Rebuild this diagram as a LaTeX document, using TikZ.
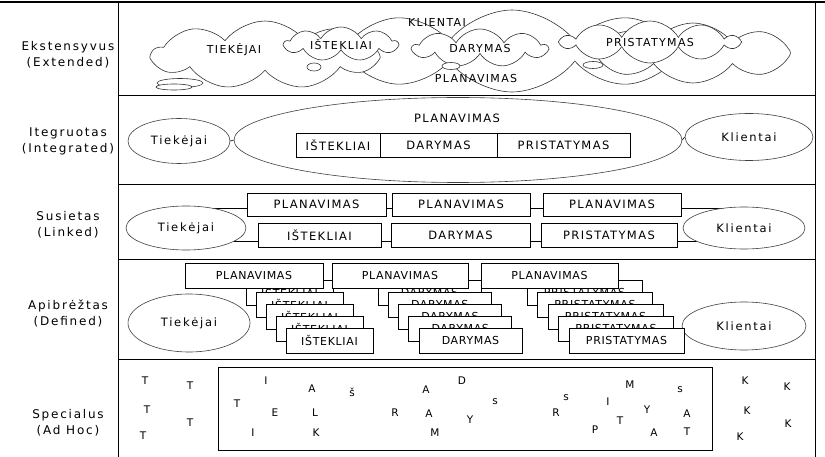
\documentclass[tikz,border=0pt]{standalone}
\usepackage{fontspec}
\setmainfont{DejaVu Sans}[LetterSpace=15]
\newfontfamily\capsfont{DejaVu Sans}[LetterSpace=12]
\newfontfamily\cardfont{DejaVu Sans}[LetterSpace=6]
\usetikzlibrary{shapes.geometric,shapes.symbols,backgrounds}

\tikzset{
  side/.style={align=center, font=\fontsize{12}{16}\selectfont},
  oval/.style={draw=black!75, ellipse, fill=white, inner sep=0pt, font=\fontsize{11.5}{13}\selectfont},
  cell/.style={draw, fill=white, inner sep=0pt, font=\capsfont\fontsize{11.5}{13}\selectfont},
  card/.style={draw, fill=white, inner sep=0pt, minimum height=25pt, font=\cardfont\fontsize{11}{12}\selectfont},
  puff/.style={draw=black!80, cloud, fill=white, cloud ignores aspect, inner sep=0pt, cloud puff arc=105},
  bubble/.style={draw=black!80, ellipse, fill=white, inner sep=0pt},
  word/.style={font=\capsfont\fontsize{11}{12}\selectfont},
  letter/.style={font=\capsfont\fontsize{10.5}{11}\selectfont, inner sep=0pt},
}

\begin{document}
\begin{tikzpicture}[x=1pt,y=-1pt,line width=0.6pt]
\useasboundingbox (0,0) rectangle (825,457);

% frame
\draw[line width=1.6pt] (0,2) -- (825,2);
\draw (118,2) -- (118,457);
\draw (815,2) -- (815,457);
\foreach \r in {95,184,259,359} \draw (118,\r) -- (815,\r);

% row labels
\node[side] (ext) at (68,55) {Ekstensyvus\\(Extended)};
\node[side] (integ) at (68,141) {Itegruotas\\(Integrated)};
\node[side] (link) at (68,225) {Susietas\\(Linked)};
\node[side] (defin) at (68,313) {Apibrėžtas\\(Defined)};
\node[side] (adhoc) at (68,423) {Specialus\\(Ad Hoc)};

% extended: clouds
\node[puff, cloud puffs=10, minimum width=390pt, minimum height=82pt] (cl2) at (512,51) {};
\node[puff, cloud puffs=8, minimum width=195pt, minimum height=60pt] (cl3) at (693,53) {};
\node[puff, cloud puffs=9, minimum width=225pt, minimum height=68pt] (cl1) at (265,55) {};
\node[bubble, minimum width=46pt, minimum height=9pt] (bb1) at (180,83) {};
\node[bubble, minimum width=36pt, minimum height=6pt] (bb2) at (174,87) {};
\node[puff, cloud puffs=9, cloud puff arc=120, minimum width=113pt, minimum height=34pt, word] (isk1) at (341,44) {IŠTEKLIAI};
\node[bubble, minimum width=14pt, minimum height=8pt] (bb3) at (314,67) {};
\node[puff, cloud puffs=9, cloud puff arc=120, minimum width=134pt, minimum height=38pt, word] (dar1) at (480,48) {DARYMAS};
\node[bubble, minimum width=18pt, minimum height=7pt] (bb4) at (451,66) {};
\node[puff, cloud puffs=10, cloud puff arc=120, minimum width=176pt, minimum height=42pt, word] (pri1) at (650,42) {PRISTATYMAS};
\node[bubble, minimum width=20pt, minimum height=7pt] (bb5) at (593,65) {};
\node[word] (kli1) at (437,22) {KLIENTAI};
\node[word] (tiek1) at (234,50) {TIEKĖJAI};
\node[word] (plan1) at (476,78) {PLANAVIMAS};

% integrated
\node[oval, minimum width=102pt, minimum height=45pt] (tiek2) at (179,141) {Tiekėjai};
\node[oval, minimum width=448pt, minimum height=85pt] (plan2) at (458,140) {};
\node[oval, minimum width=128pt, minimum height=47pt] (kli2) at (749,137) {Klientai};
\node[cell, draw=none, fill=none] (planlbl) at (457,118) {PLANAVIMAS};
\node[cell, minimum width=84pt, minimum height=24pt] (isk2) at (338,145) {IŠTEKLIAI};
\node[cell, minimum width=117pt, minimum height=24pt] (dar2) at (438.5,145) {DARYMAS};
\node[cell, minimum width=133pt, minimum height=24pt] (pri2) at (563.5,145) {PRISTATYMAS};
\draw (tiek2.east) -- (plan2.west);
\draw (plan2.east) -- (kli2.west);

% linked
\node[oval, minimum width=120pt, minimum height=44pt] (tiek3) at (186,228) {Tiekėjai};
\node[oval, minimum width=122pt, minimum height=42pt] (kli3) at (744,228) {Klientai};
\node[cell, minimum width=139pt, minimum height=23pt] (p31) at (316.5,204.5) {PLANAVIMAS};
\node[cell, minimum width=138pt, minimum height=23pt] (p32) at (461,204.5) {PLANAVIMAS};
\node[cell, minimum width=138pt, minimum height=23pt] (p33) at (612,204.5) {PLANAVIMAS};
\node[cell, minimum width=123pt, minimum height=24pt] (i31) at (319.5,235) {IŠTEKLIAI};
\node[cell, minimum width=139pt, minimum height=24pt] (d31) at (460.5,235) {DARYMAS};
\node[cell, minimum width=136pt, minimum height=24pt] (r31) at (609,235) {PRISTATYMAS};
\coordinate (a1) at ([yshift=-3.5pt]p31.west);
\coordinate (a2) at ([yshift=-3.5pt]p31.east);
\coordinate (a3) at ([yshift=-3.5pt]p32.east);
\coordinate (a4) at ([yshift=-3.5pt]p33.east);
\coordinate (b1) at ([yshift=-6pt]i31.west);
\coordinate (b2) at ([yshift=-6pt]i31.east);
\coordinate (b3) at ([yshift=-6pt]d31.east);
\coordinate (b4) at ([yshift=-6pt]r31.east);
\begin{scope}[on background layer]
\draw (a1) -- (a1 -| tiek3.center);
\draw (a4) -- (a4 -| kli3.center);
\draw (b1) -- (b1 -| tiek3.center);
\draw (b4) -- (b4 -| kli3.center);
\end{scope}
\draw (a2) -- (a2 -| p32.west);
\draw (a3) -- (a3 -| p33.west);
\draw (b2) -- (b2 -| d31.west);
\draw (b3) -- (b3 -| r31.west);

% defined
\node[oval, minimum width=122pt, minimum height=58pt] (tiek4) at (189,323) {Tiekėjai};
\node[oval, minimum width=124pt, minimum height=48pt] (kli4) at (744,326) {Klientai};
\foreach \k in {0,...,4} {
  \node[card, minimum width=87pt] (isk4\k) at ({289.5+10*\k},{292.5+12*\k}) {IŠTEKLIAI};
  \node[card, minimum width=103pt] (dar4\k) at ({429.5+10.25*\k},{292.5+12*\k}) {DARYMAS};
  \node[card, minimum width=115pt] (pri4\k) at ({584.5+10.5*\k},{292.5+12*\k}) {PRISTATYMAS};
}
\node[card, minimum width=138pt] (pl41) at (254,275.5) {PLANAVIMAS};
\node[card, minimum width=136pt] (pl42) at (400,275.5) {PLANAVIMAS};
\node[card, minimum width=137pt] (pl43) at (549.5,275.5) {PLANAVIMAS};
\coordinate (c1) at ([yshift=-4.5pt]pl41.east);
\coordinate (c2) at ([yshift=-4.5pt]pl42.east);
\draw (c1) -- (c1 -| pl42.west);
\draw (c2) -- (c2 -| pl43.west);

% ad hoc
\node[draw, minimum width=494pt, minimum height=83pt, inner sep=0pt] (mix) at (465,408.5) {};
\foreach \x/\y/\l [count=\i] in {
  266/381/I, 312/389/A, 352/392/š, 426/390/A, 462/381/D, 630/385/M, 680/390/s,
  237/404/T, 275/413/E, 315/413/L, 395/413/R, 429/414/A, 470/420/Y, 495/402/s,
  566/398/s, 556/413/R, 608/402/I, 647/410/Y, 687/414/A,
  253/433/I, 316/433/K, 435/433/M, 595/430/P, 620/421/T, 654/433/A, 687/432/T,
  145/381/T, 190/386/T, 147/410/T, 190/423/T, 143/436/T,
  745/381/K, 787/387/K, 747/411/K, 788/424/K, 740/437/K}
  \node[letter] (ch\i) at (\x,\y) {\l};
\end{tikzpicture}
\end{document}
